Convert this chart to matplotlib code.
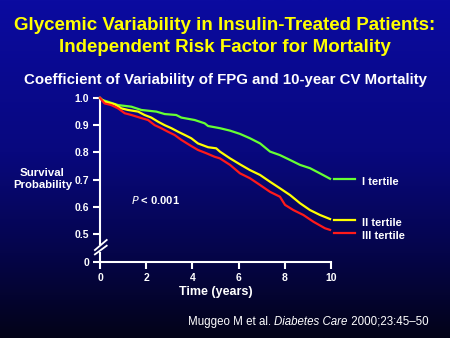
import numpy as np
import matplotlib
matplotlib.use("Agg")
import matplotlib.pyplot as plt
from matplotlib.colors import LinearSegmentedColormap

plt.rcParams['font.family'] = ['Liberation Sans', 'DejaVu Sans']

# ---- data ----
t_green = [0, 0.06, 0.35, 0.78, 1.36, 1.79, 2.44, 2.8, 3.3, 3.52, 4.1, 4.53, 4.68, 5.19, 5.63,
           6.06, 6.49, 6.93, 7.36, 7.79, 8.23, 8.66, 9.09, 9.52, 9.96]
s_green = [1.0, 0.994, 0.986, 0.974, 0.968, 0.956, 0.95, 0.941, 0.9375, 0.928, 0.919, 0.907, 0.897, 0.889, 0.88,
           0.868, 0.852, 0.833, 0.803, 0.79, 0.772, 0.754, 0.742, 0.723, 0.703]
t_yellow = [0, 0.2, 0.64, 0.92, 1.21, 1.65, 1.93, 2.22, 2.51, 2.8, 3.09, 3.38, 3.67, 3.95, 4.24, 4.68,
            5.03, 5.19, 5.63, 6.06, 6.49, 6.93, 7.36, 7.79, 8.23, 8.66, 9.09, 9.52, 9.96]
s_yellow = [1.0, 0.986, 0.977, 0.962, 0.956, 0.95, 0.9375, 0.928, 0.913, 0.90, 0.889, 0.876, 0.864, 0.852, 0.833, 0.819,
            0.815, 0.803, 0.778, 0.756, 0.735, 0.717, 0.692, 0.668, 0.643, 0.613, 0.588, 0.57, 0.555]
t_red = [0, 0.2, 0.49, 0.78, 1.07, 1.36, 1.72, 2.08, 2.37, 2.65, 2.94, 3.23, 3.52, 3.88, 4.24, 4.6,
         4.96, 5.19, 5.63, 6.06, 6.49, 6.93, 7.36, 7.79, 8.01, 8.37, 8.8, 9.24, 9.74, 9.96]
s_red = [1.0, 0.98, 0.974, 0.962, 0.944, 0.9375, 0.928, 0.919, 0.90, 0.889, 0.876, 0.864, 0.846, 0.827, 0.809, 0.797,
         0.784, 0.778, 0.754, 0.723, 0.705, 0.68, 0.655, 0.637, 0.607, 0.588, 0.57, 0.545, 0.521, 0.515]

series_names = ["I tertile", "II tertile", "III tertile"]
series_colors = ["#66ff33", "#ffff00", "#ff1a1a"]

x_ticks = [0, 2, 4, 6, 8, 10]
y_ticks = [0.5, 0.6, 0.7, 0.8, 0.9, 1.0]
y_zero_pos = 0.397  # display position of the "0" tick below the axis break

W, H = 450, 338
fig = plt.figure(figsize=(W / 100, H / 100), dpi=100)

# background gradient
bg = fig.add_axes([0, 0, 1, 1], zorder=-10)
cmap = LinearSegmentedColormap.from_list("bg", [(0.0, "#0b0ba0"), (0.45, "#08087e"), (0.75, "#05054a"), (1.0, "#030318")])
grad = np.linspace(0, 1, 256).reshape(-1, 1)
bg.imshow(grad, aspect="auto", cmap=cmap, extent=[0, 1, 0, 1])
bg.axis("off")

def px(x, y):
    return (x / W, 1 - y / H)

# plot axes
left, right, top, bottom = 100, 331, 98, 262
ax = fig.add_axes([left / W, 1 - bottom / H, (right - left) / W, (bottom - top) / H])
ax.set_facecolor("none")
ax.set_xlim(0, 10)
ax.set_ylim(y_zero_pos, 1.0)

for t, s, c in [(t_green, s_green, series_colors[0]), (t_yellow, s_yellow, series_colors[1]), (t_red, s_red, series_colors[2])]:
    ax.plot(t, s, color=c, lw=1.6, clip_on=False, zorder=3)

for sp in ["top", "right"]:
    ax.spines[sp].set_visible(False)
ax.spines["bottom"].set_color("white")
ax.spines["bottom"].set_linewidth(1.5)
ax.spines["left"].set_color("white")
ax.spines["left"].set_linewidth(1.5)
ax.spines["left"].set_bounds(0.463, 1.0)
# lower part of the y axis, below the break
ax.plot([0, 0], [y_zero_pos, 0.434], color="white", lw=1.5, clip_on=False, solid_capstyle="butt")
# break marks
ax.plot([-0.22, 0.29], [0.441, 0.478], color="white", lw=1.3, clip_on=False)
ax.plot([-0.22, 0.29], [0.425, 0.457], color="white", lw=1.3, clip_on=False)

ax.set_xticks(x_ticks)
ax.set_xticklabels([str(v) for v in x_ticks])
ax.set_yticks([y_zero_pos] + y_ticks)
ax.set_yticklabels(["0"] + [f"{v:.1f}" for v in y_ticks])
ax.tick_params(axis="both", colors="white", width=1.5, length=5, labelsize=7.5, pad=3)
for lab in ax.get_xticklabels() + ax.get_yticklabels():
    lab.set_fontweight("bold")
    lab.set_color("white")

ax.set_xlabel("Time (years)", color="white", fontsize=9, fontweight="bold", labelpad=2)

# legend-like labels at line ends
leg_y = [179, 220, 233]
leg_txt_y = [182, 223, 236]
for name, c, ly, ty in zip(series_names, series_colors, leg_y, leg_txt_y):
    fig.add_artist(plt.Line2D([334 / W, 355 / W], [1 - ly / H, 1 - ly / H], color=c, lw=1.6))
    fig.text(*px(362, ty), name, color="white", fontsize=8, fontweight="bold", va="center", ha="left")

# titles
fig.text(*px(225, 25), "Glycemic Variability in Insulin-Treated Patients:", color="#ffff00",
         fontsize=13.5, fontweight="bold", ha="center", va="center")
fig.text(*px(225, 48), "Independent Risk Factor for Mortality", color="#ffff00",
         fontsize=13.5, fontweight="bold", ha="center", va="center")
fig.text(*px(225, 80), "Coefficient of Variability of FPG and 10-year CV Mortality", color="white",
         fontsize=10.8, fontweight="bold", ha="center", va="center")

fig.text(*px(42.5, 179), "Survival\nProbability", color="white", fontsize=8.2, fontweight="bold",
         ha="center", va="center", linespacing=1.2)
fig.text(*px(131, 200), r"$\mathbf{\mathit{P}}$ < 0.001", color="white", fontsize=8, fontweight="bold",
         ha="left", va="center")

# citation
t1 = fig.text(*px(188, 322), "Muggeo M et al. ", color="white", fontsize=8.3, ha="left", va="center")
fig.canvas.draw()
r = fig.canvas.get_renderer()
bb = t1.get_window_extent(r)
t2 = fig.text(bb.x1 / fig.bbox.width, 1 - 322 / H, "Diabetes Care", color="white", fontsize=8.3, style="italic",
              ha="left", va="center")
bb2 = t2.get_window_extent(r)
fig.text(bb2.x1 / fig.bbox.width, 1 - 322 / H, " 2000;23:45\u201350", color="white", fontsize=8.3, ha="left", va="center")

fig.savefig("out.png", dpi=100)
